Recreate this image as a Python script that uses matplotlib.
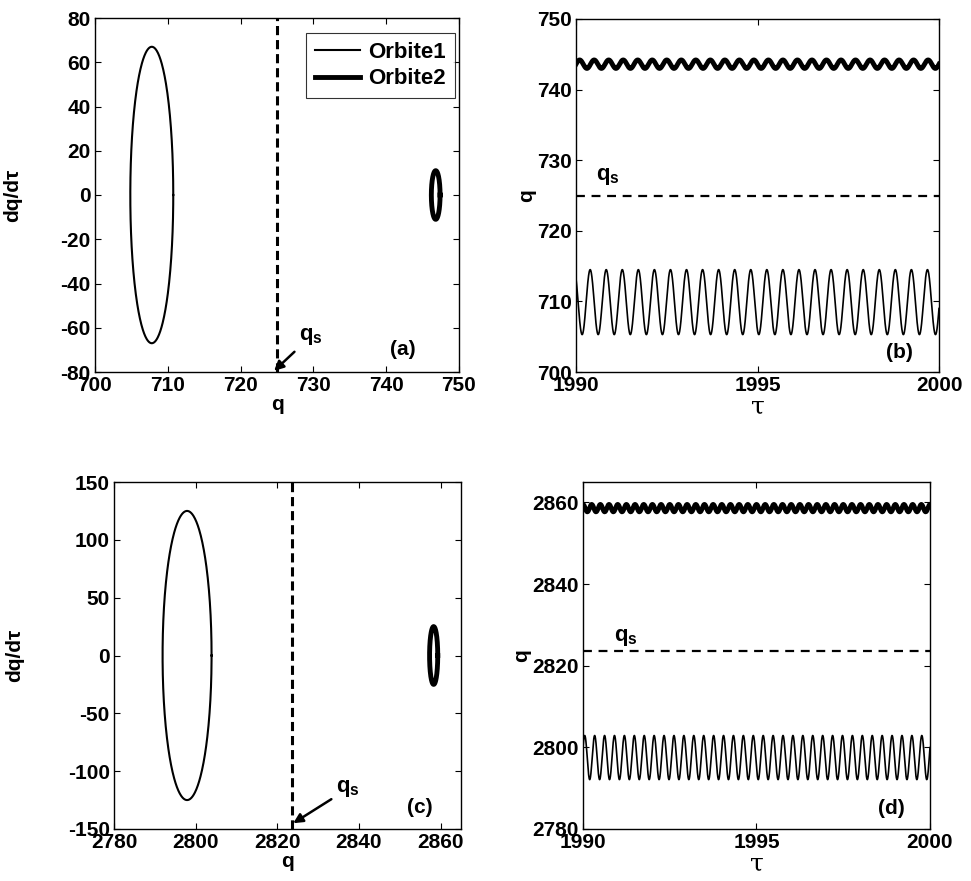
import numpy as np
import matplotlib
matplotlib.use("Agg")
from matplotlib import pyplot as plt

plt.rcParams['font.family'] = ['Liberation Sans', 'DejaVu Sans']
plt.rcParams['font.weight'] = 'bold'
plt.rcParams['axes.unicode_minus'] = False
plt.rcParams['mathtext.fontset'] = 'custom'
plt.rcParams['mathtext.rm'] = 'Liberation Sans:bold'
plt.rcParams['mathtext.bf'] = 'Liberation Sans:bold'
plt.rcParams['mathtext.it'] = 'Liberation Sans:bold'

# --- values ---
# top row (a, b)
orb1_top = dict(centre=709.9, q_amp=4.6, v_amp=67.0, cycles=22.6, t_peak=1990.39)
orb2_top = dict(centre=743.6, q_amp=0.6, v_amp=11.0, cycles=25.0, t_peak=1990.10)
loop_centre_top = [707.8, 746.8]   # q centres of the loops drawn in (a)
loop_qamp_top = [2.95, 0.6]        # q half widths of the loops in (a)
qs_top = 725.0

# bottom row (c, d)
orb1_bot = dict(centre=2797.5, q_amp=5.4, v_amp=125.0, cycles=35.0, t_peak=1990.05)
orb2_bot = dict(centre=2858.6, q_amp=0.9, v_amp=25.0, cycles=40.0, t_peak=1990.00)
loop_centre_bot = [2797.9, 2858.3]
loop_qamp_bot = [6.0, 1.0]
qs_bot = 2823.5

t_start, t_end = 1990.0, 2000.0

a_xticks = [700, 710, 720, 730, 740, 750]
a_yticks = [-80, -60, -40, -20, 0, 20, 40, 60, 80]
b_yticks = [700, 710, 720, 730, 740, 750]
c_xticks = [2780, 2800, 2820, 2840, 2860]
c_yticks = [-150, -100, -50, 0, 50, 100, 150]
d_yticks = [2780, 2800, 2820, 2840, 2860]
t_ticks = [1990, 1995, 2000]

FS = 15
W, H = 971, 881


def box(l, r, t, b):
    return [l / W, (H - b) / H, (r - l) / W, (b - t) / H]


def style(ax):
    ax.tick_params(direction='in', top=True, right=True, length=4, width=0.8,
                   labelsize=FS, pad=3)
    for s in ax.spines.values():
        s.set_linewidth(1.0)
    for lab in ax.get_xticklabels() + ax.get_yticklabels():
        lab.set_fontweight('bold')


def loop(ax, cq, qa, orb, lw, label=None):
    th = np.linspace(0, 2 * np.pi, 400)
    ax.plot(cq + qa * np.cos(th), orb['v_amp'] * np.sin(th),
            color='black', lw=lw, label=label)


def series(ax, orb, lw):
    t = np.linspace(t_start, t_end, 4000)
    w = 2 * np.pi * orb['cycles'] / (t_end - t_start)
    ax.plot(t, orb['centre'] + orb['q_amp'] * np.cos(w * (t - orb['t_peak'])),
            color='black', lw=lw)


def labels(ax, ylab, ypos, xlab):
    if xlab == 'q':
        ax.set_xlabel('q', fontsize=FS, fontweight='bold', labelpad=0)
    else:
        ax.set_xlabel('τ', fontsize=FS + 3, family='DejaVu Serif',
                      fontweight='normal', labelpad=0)
    ax.set_ylabel(ylab, fontsize=FS, fontweight='bold')
    ax.yaxis.set_label_coords(ypos, 0.5)


fig = plt.figure(figsize=(9.71, 8.81), dpi=100)

# (a)
ax = fig.add_axes(box(95, 459, 18, 372))
loop(ax, loop_centre_top[0], loop_qamp_top[0], orb1_top, 1.5, 'Orbite1')
loop(ax, loop_centre_top[1], loop_qamp_top[1], orb2_top, 3.5, 'Orbite2')
ax.axvline(qs_top, color='black', lw=2.2, ls=(0, (3, 1.6)))
ax.set_xlim(700, 750)
ax.set_ylim(-80, 80)
ax.set_xticks(a_xticks)
ax.set_yticks(a_yticks)
labels(ax, 'dq/dτ', -0.20, 'q')
ax.annotate(r'$q_s$', xy=(qs_top - 0.4, -79.5), xytext=(728.0, -64),
            fontsize=FS + 1, ha='left', va='center',
            arrowprops=dict(arrowstyle='-|>', color='black', lw=1.8,
                            mutation_scale=14, shrinkA=2, shrinkB=0))
ax.text(742.3, -70, '(a)', fontsize=FS, fontweight='bold', ha='center', va='center')
leg = ax.legend(loc='upper right', bbox_to_anchor=(0.989, 0.958), fontsize=FS + 1,
                frameon=True, fancybox=False, edgecolor='black', handlelength=2.0,
                borderpad=0.4, labelspacing=0.25, handletextpad=0.4,
                borderaxespad=0)
leg.get_frame().set_linewidth(0.8)
for tx in leg.get_texts():
    tx.set_fontweight('bold')
style(ax)

# (b)
ax = fig.add_axes(box(576, 939, 19, 372))
series(ax, orb1_top, 1.2)
series(ax, orb2_top, 3.5)
ax.axhline(qs_top, color='black', lw=1.6, ls=(0, (4, 3)))
ax.set_xlim(t_start, t_end)
ax.set_ylim(700, 750)
ax.set_xticks(t_ticks)
ax.set_yticks(b_yticks)
labels(ax, 'q', -0.11, 't')
ax.text(1990.55, 726.2, r'$q_s$', fontsize=FS + 1, ha='left', va='bottom')
ax.text(1998.9, 702.8, '(b)', fontsize=FS, fontweight='bold', ha='center', va='center')
style(ax)

# (c)
ax = fig.add_axes(box(114, 461, 482, 829))
loop(ax, loop_centre_bot[0], loop_qamp_bot[0], orb1_bot, 1.5)
loop(ax, loop_centre_bot[1], loop_qamp_bot[1], orb2_bot, 3.5)
ax.axvline(qs_bot, color='black', lw=2.2, ls=(0, (3, 1.6)))
ax.set_xlim(2780, 2865)
ax.set_ylim(-150, 150)
ax.set_xticks(c_xticks)
ax.set_yticks(c_yticks)
labels(ax, 'dq/dτ', -0.26, 'q')
ax.annotate(r'$q_s$', xy=(qs_bot + 0.4, -145), xytext=(2834.5, -115),
            fontsize=FS + 1, ha='left', va='center',
            arrowprops=dict(arrowstyle='-|>', color='black', lw=1.8,
                            mutation_scale=14, shrinkA=2, shrinkB=0))
ax.text(2855, -131, '(c)', fontsize=FS, fontweight='bold', ha='center', va='center')
style(ax)

# (d)
ax = fig.add_axes(box(583, 930, 482, 829))
series(ax, orb1_bot, 1.2)
series(ax, orb2_bot, 3.5)
ax.axhline(qs_bot, color='black', lw=1.6, ls=(0, (4, 3)))
ax.set_xlim(t_start, t_end)
ax.set_ylim(2780, 2865)
ax.set_xticks(t_ticks)
ax.set_yticks(d_yticks)
labels(ax, 'q', -0.15, 't')
ax.text(1990.9, 2824.3, r'$q_s$', fontsize=FS + 1, ha='left', va='bottom')
ax.text(1998.9, 2785, '(d)', fontsize=FS, fontweight='bold', ha='center', va='center')
style(ax)

fig.savefig('out.png', dpi=100)
